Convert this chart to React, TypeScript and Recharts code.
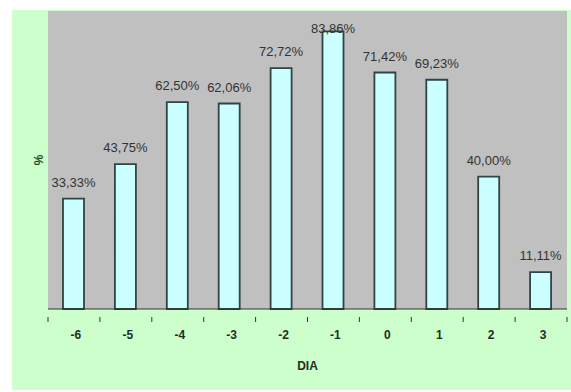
import { BarChart, Bar, XAxis, YAxis, CartesianGrid, LabelList } from "recharts";

const days = ["-6", "-5", "-4", "-3", "-2", "-1", "0", "1", "2", "3"];
const percents = [33.33, 43.75, 62.5, 62.06, 72.72, 83.86, 71.42, 69.23, 40.0, 11.11];

const data = days.map((dia, i) => ({ dia, pct: percents[i] }));

const W = 571;
const H = 392;
const PLOT_TOP = 11;
const PLOT_LEFT = 48;
const PLOT_RIGHT = 567;
const STEP = (PLOT_RIGHT - PLOT_LEFT) / days.length;
const FONT = "Arial, 'Liberation Sans', sans-serif";

const fmt = (v: number) => v.toFixed(2).replace(".", ",") + "%";

// category ticks sit between the bars, label in the middle
const DayTick = (props: any) => {
    const { x, y, payload, index } = props;
    const left = x - STEP / 2;
    return (
        <g>
            <line x1={left} y1={y} x2={left} y2={y + 5} stroke="#333" />
            {index === days.length - 1 && (
                <line x1={x + STEP / 2} y1={y} x2={x + STEP / 2} y2={y + 5} stroke="#333" />
            )}
            <text
                x={x + 2}
                y={y + 22}
                textAnchor="middle"
                fontSize={12}
                fontWeight="bold"
                fill="#1e2e1e"
                fontFamily={FONT}
            >
                {payload.value}
            </text>
        </g>
    );
};

// value above the bar, kept inside the plot when the bar is tall
const ValueLabel = (props: any) => {
    const { x, y, width, value } = props;
    const baseline = Math.max(y - 12, PLOT_TOP + 22);
    return (
        <text
            x={x + width / 2}
            y={baseline}
            textAnchor="middle"
            fontSize={13}
            fill="#333"
            fontFamily={FONT}
        >
            {fmt(Number(value))}
        </text>
    );
};

const App = () => {
    return (
        <div style={{ position: "absolute", left: 0, top: 0, width: W, height: H, background: "#fff" }}>
            <div
                style={{
                    position: "absolute",
                    left: 12,
                    top: 10,
                    width: W - 12,
                    height: H - 12,
                    background: "#ccffcc",
                }}
            />
            <div style={{ position: "absolute", left: 0, top: 0 }}>
                <BarChart
                    width={W}
                    height={H}
                    data={data}
                    margin={{ top: PLOT_TOP, right: W - PLOT_RIGHT, left: 12, bottom: 21 }}
                    barSize={21}
                    style={{ fontFamily: FONT }}
                >
                    <CartesianGrid horizontal={false} vertical={false} fill="#c0c0c0" />
                    <YAxis
                        domain={[0, 90]}
                        width={36}
                        tick={false}
                        axisLine={false}
                        tickLine={false}
                        label={{
                            value: "%",
                            angle: -90,
                            position: "center",
                            dx: 9,
                            fontSize: 12,
                            fontWeight: "bold",
                            fill: "#1e4a1e",
                        }}
                    />
                    <XAxis
                        dataKey="dia"
                        height={62}
                        axisLine={{ stroke: "#333" }}
                        tickLine={false}
                        tick={<DayTick />}
                        interval={0}
                        label={{
                            value: "DIA",
                            position: "insideBottom",
                            offset: 1,
                            fontSize: 12,
                            fontWeight: "bold",
                            fill: "#1e2e1e",
                        }}
                    />
                    <Bar
                        dataKey="pct"
                        fill="#ccffff"
                        stroke="#2f4444"
                        strokeWidth={1.8}
                        isAnimationActive={false}
                    >
                        <LabelList dataKey="pct" content={<ValueLabel />} />
                    </Bar>
                </BarChart>
            </div>
        </div>
    );
};

export default App;
